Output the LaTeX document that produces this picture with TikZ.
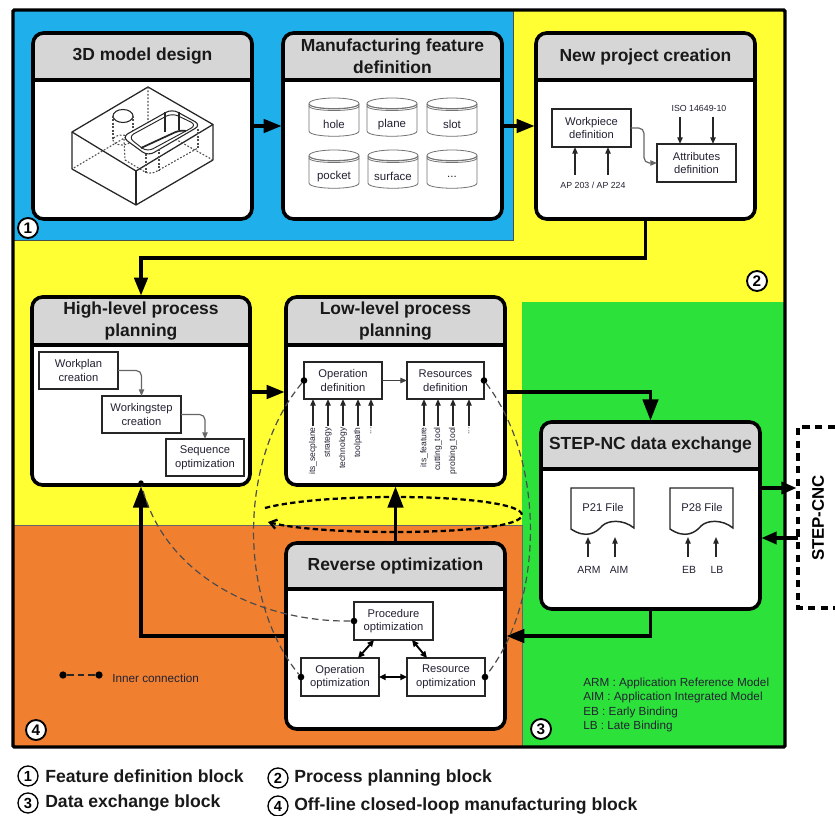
\documentclass[tikz,border=0pt]{standalone}
\usepackage{fontspec}
\setmainfont{Liberation Sans}
\usetikzlibrary{arrows.meta,calc,fit}
\definecolor{cblue}{HTML}{1FB0EC}
\definecolor{cyellow}{HTML}{FFFF33}
\definecolor{cgreen}{HTML}{2CE23A}
\definecolor{corange}{HTML}{F08030}
\definecolor{chead}{HTML}{D6D6D6}
\definecolor{ctext}{HTML}{222233}
\tikzset{
  cardbox/.style={draw=black,line width=2.7pt,rounded corners=8pt,inner sep=0pt,outer sep=0pt},
  cardtitle/.style={font=\bfseries\fontsize{13.1}{16.5}\selectfont,align=center,text=black!90,inner sep=0pt},
  bigarrow/.style={draw=black,line width=2.7pt,-{Triangle[length=13.5pt,width=10pt]},shorten >=1pt},
  tallarrow/.style={bigarrow,-{Triangle[length=16pt,width=11.5pt]}},
  innerbox/.style={draw=black!85,line width=1.5pt,fill=white,inner sep=0pt,outer sep=0pt,align=center,text=ctext},
  boxtext/.style={font=\fontsize{8.4}{10.2}\selectfont,align=center,text=ctext,inner sep=0pt},
  smalltext/.style={font=\fontsize{6.6}{8}\selectfont,text=ctext,inner sep=0pt},
  sideLabel/.style={font=\fontsize{6.4}{8}\selectfont,text=ctext,inner sep=0pt,rotate=90,anchor=east},
  uparrow/.style={draw=black!85,line width=1pt,-{Triangle[length=5pt,width=4pt]}},
  greyarrow/.style={draw=black!60,line width=.9pt,rounded corners=4pt,-{Triangle[length=5pt,width=4pt]}},
  doublearrow/.style={draw=black,line width=1.4pt,{Triangle[length=5pt,width=4.5pt]}-{Triangle[length=5pt,width=4.5pt]}},
  innerdash/.style={draw=black!70,line width=.9pt,dash pattern=on 5pt off 3pt},
  dotnode/.style={circle,fill=black,inner sep=0pt,minimum size=5pt},
  badge/.style={circle,draw=black,fill=white,line width=1.4pt,inner sep=0pt,minimum size=15pt,font=\bfseries\fontsize{11.5}{12}\selectfont},
  lbadge/.style={circle,draw=black,fill=white,line width=1pt,inner sep=0pt,minimum size=15pt,font=\bfseries\fontsize{11}{12}\selectfont},
  legendtext/.style={font=\bfseries\fontsize{13.2}{15}\selectfont,anchor=west,inner sep=0pt,text=black!90},
  plaintext/.style={font=\fontsize{8.8}{10}\selectfont,anchor=west,inner sep=0pt,text=ctext},
  cylline/.style={draw=black!55,line width=.6pt},
  solidline/.style={draw=black!85,line width=.95pt},
  dotline/.style={draw=black!70,line width=.8pt,dash pattern=on 1.3pt off 1.3pt},
}
% name, x1, y1, x2, y2, header bottom, title
\newcommand{\mycard}[7]{%
  \fill[white,rounded corners=8pt] (#2,#3) rectangle (#4,#5);
  \begin{scope}
    \clip[rounded corners=8pt] (#2,#3) rectangle (#4,#5);
    \fill[chead] (#2,#3) rectangle (#4,#6);
  \end{scope}
  \draw[black,line width=2.5pt] (#2,#6) -- (#4,#6);
  \node[cardbox,fit={(#2,#3)(#4,#5)}] (#1) {};
  \node[cardtitle] (#1t) at ($(#2,#3)!.5!(#4,#6)$) {#7};
}
% name, cx, top, label
\newcommand{\mycyl}[4]{%
  \draw[cylline,fill=white] (#2-25,#3+6) -- (#2-25,#3+33) .. controls (#2-25,#3+40) and (#2+25,#3+40) .. (#2+25,#3+33) -- (#2+25,#3+6);
  \draw[cylline] (#2,#3+5.5) ellipse [x radius=25,y radius=5.5];
  \draw[cylline] (#2-25,#3+8) .. controls (#2-25,#3+14) and (#2+25,#3+14) .. (#2+25,#3+8);
  \draw[cylline] (#2-25,#3+6) .. controls (#2-25,#3+12) and (#2+25,#3+12) .. (#2+25,#3+6);
  \node[smalltext,font=\fontsize{8.6}{9}\selectfont] (#1) at (#2,#3+26.5) {#4};
}
% name, x, label
\newcommand{\mydoc}[3]{%
  \draw[black!85,line width=1.1pt,fill=white] (#2,488) -- (#2+63,488) -- (#2+63,528)
    .. controls (#2+52,519) and (#2+37,520) .. (#2+31,526)
    .. controls (#2+25,533) and (#2+15,539) .. (#2,529) -- cycle;
  \node[smalltext,font=\fontsize{8.4}{10}\selectfont] (#1) at (#2+32,507) {#3};
}
\begin{document}
\begin{tikzpicture}[x=0.75pt,y=-0.75pt]
\useasboundingbox (0,0) rectangle (835,816);

% block backgrounds
\fill[cyellow] (13,10) rectangle (785,525);
\fill[cgreen] (522,302) rectangle (785,747);
\draw[black!60,line width=.5pt,fill=corange] (13,525) rectangle (522,747);
\draw[black!70,line width=.5pt,fill=cblue] (13,10) rectangle (513,240);
\draw[black,line width=2.6pt,rounded corners=1pt] (13,10) rectangle (785,747);

% cards
\mycard{model}{33}{33}{252}{219}{80}{3D model design}
\mycard{feat}{283}{33}{502}{219}{80}{Manufacturing feature\\definition}
\mycard{proj}{536}{33}{755}{219}{80}{New project creation}
\mycard{high}{32}{297}{250}{485}{345}{High-level process\\planning}
\mycard{low}{286}{297}{505}{485}{345}{Low-level process\\planning}
\mycard{rev}{286}{543}{505}{729}{589}{Reverse optimization}
\mycard{stp}{541}{422}{760}{609}{469}{STEP-NC data exchange}

% 3D part
\draw[solidline,line join=round] (148,87) -- (213,124.5) -- (136,171) -- (72,132) -- cycle;
\draw[solidline,line join=round] (72,132) -- (72,169) -- (136,205) -- (213,160) -- (213,124.5);
\draw[solidline] (136,171) -- (136,205);
\draw[dotline] (148,87) -- (148,124) -- (72,169);
\draw[dotline] (148,124) -- (213,160);
\draw[solidline,line width=.8pt] (123,116) ellipse [x radius=10,y radius=6.5];
\draw[dotline] (113,116) -- (113,140);
\draw[dotline] (133,116) -- (133,142);
\draw[dotline] (122,140) ellipse [x radius=9,y radius=5];
\draw[solidline,rounded corners=5pt,fill=white,line width=.8pt] (122,137) -- (172,109) -- (201,125) -- (148,156) -- cycle;
\draw[solidline,rounded corners=5pt,line width=.7pt] (128,137) -- (172,113) -- (197,125) -- (147,152) -- cycle;
\draw[solidline,line width=1.3pt,rounded corners=4pt] (141,148) -- (180,130) -- (186,131);
\draw[solidline,line width=.8pt] (165,112) -- (165,132);
\draw[solidline,line width=.8pt] (179,112) -- (179,130);
\draw[dotline,rounded corners=5pt] (125,160) -- (150,175) -- (198,148);
\draw[dotline] (124,139) -- (125,160);
\draw[dotline] (146,154) -- (146,173);
\draw[dotline] (159,149) -- (159,170);
\draw[dotline] (198,129) -- (198,148);

% feature cylinders
\mycyl{fhole}{334}{98}{hole}
\mycyl{fplane}{392}{98}{plane}
\mycyl{fslot}{452}{98}{slot}
\mycyl{fpocket}{334}{150}{pocket}
\mycyl{fsurface}{393}{150}{surface}
\mycyl{fmore}{452}{150}{...}

% new project
\node[innerbox,fit={(552,109)(631,147)}] (work) {};
\node[boxtext] (workt) at (work.center) {Workpiece\\definition};
\node[innerbox,fit={(657,144)(736,182)}] (attr) {};
\node[boxtext] (attrt) at (attr.center) {Attributes\\definition};
\draw[greyarrow] (work.east) -- (644,128) -- (644,163) -- (attr.west);
\node[smalltext] (aplabel) at (593,185) {AP 203 / AP 224};
\node[smalltext] (isolabel) at (699,108) {ISO 14649-10};
\coordinate (apa) at (575,175);
\coordinate (apb) at (608,175);
\coordinate (isoa) at (680,117);
\coordinate (isob) at (713,117);
\draw[uparrow] (apa) -- (apa |- work.south);
\draw[uparrow] (apb) -- (apb |- work.south);
\draw[uparrow] (isoa) -- (isoa |- attr.north);
\draw[uparrow] (isob) -- (isob |- attr.north);

% high level
\node[innerbox,fit={(39,352)(118,389)}] (wplan) {};
\node[boxtext] (wplant) at (wplan.center) {Workplan\\creation};
\node[innerbox,fit={(102,396)(181,433)}] (wstep) {};
\node[boxtext] (wstept) at (wstep.center) {Workingstep\\creation};
\node[innerbox,fit={(166,439)(244,476)}] (seqo) {};
\node[boxtext] (seqot) at (seqo.center) {Sequence\\optimization};
\draw[greyarrow] (wplan.east) -| (wstep.north);
\draw[greyarrow] (wstep.east) -| (seqo.north);

% low level
\node[innerbox,fit={(304,362)(382,399)}] (opdef) {};
\node[boxtext] (opdeft) at (opdef.center) {Operation\\definition};
\node[innerbox,fit={(407,362)(484,399)}] (resdef) {};
\node[boxtext] (resdeft) at (resdef.center) {Resources\\definition};
\draw[greyarrow,draw=black!75] (opdef) -- (resdef);
\node[sideLabel] (la) at (313,427) {its\_secplane};
\node[sideLabel] (lb) at (328,427) {strategy};
\node[sideLabel] (lc) at (343,427) {technology};
\node[sideLabel] (ld) at (358,427) {toolpath};
\node[sideLabel] (le) at (371,427) {...};
\node[sideLabel] (lf) at (424,427) {its\_feature};
\node[sideLabel] (lg) at (438,427) {cutting\_tool};
\node[sideLabel] (lh) at (453,427) {probing\_tool};
\node[sideLabel] (li) at (469,427) {...};
\foreach \n in {a,b,c,d,e}{\draw[uparrow] ($(l\n.east)+(0,-1)$) -- (l\n.east |- opdef.south);}
\foreach \n in {f,g,h,i}{\draw[uparrow] ($(l\n.east)+(0,-1)$) -- (l\n.east |- resdef.south);}

% reverse optimization
\node[innerbox,fit={(354,602)(433,640)}] (proc) {};
\node[boxtext] (proct) at (proc.center) {Procedure\\optimization};
\node[innerbox,fit={(301,658)(379,696)}] (opop) {};
\node[boxtext] (opopt) at (opop.center) {Operation\\optimization};
\node[innerbox,fit={(407,658)(485,696)}] (resop) {};
\node[boxtext] (resopt) at (resop.center) {Resource\\optimization};
\draw[doublearrow] (opop) -- (resop);
\coordinate (pa) at (374,640);
\coordinate (pb) at (358,658);
\coordinate (pc) at (412,640);
\coordinate (pd) at (427,658);
\draw[doublearrow] (pa) -- (pb);
\draw[doublearrow] (pc) -- (pd);

% step-nc files
\mydoc{pone}{571}{P21 File}
\mydoc{ptwo}{670}{P28 File}
\node[smalltext,font=\fontsize{7.8}{9}\selectfont] (arm) at (589,570) {ARM};
\node[smalltext,font=\fontsize{7.8}{9}\selectfont] (aim) at (619,570) {AIM};
\node[smalltext,font=\fontsize{7.8}{9}\selectfont] (eb) at (689,570) {EB};
\node[smalltext,font=\fontsize{7.8}{9}\selectfont] (lbb) at (717,570) {LB};
\coordinate (arma) at (588,557);
\coordinate (aima) at (615,557);
\coordinate (eba) at (688,557);
\coordinate (lba) at (716,557);
\draw[uparrow] (arma) -- ++(0,-20);
\draw[uparrow] (aima) -- ++(0,-20);
\draw[uparrow] (eba) -- ++(0,-20);
\draw[uparrow] (lba) -- ++(0,-20);

% main connectors
\coordinate (hl) at (250,392);
\draw[bigarrow] (model) -- (feat);
\draw[bigarrow] (feat) -- (proj);
\draw[bigarrow] (proj.south) -- ++(0,39) -| (high.north);
\draw[bigarrow] (high.east |- hl) -- (low.west |- hl);
\draw[tallarrow] (low.east |- hl) -| (stp.north);
\draw[bigarrow] (stp.south) -- ++(0,27) -- (rev.east);
\draw[tallarrow] (rev.west) -| (high.south);
\draw[tallarrow] (rev.north) -- (low.south);

% STEP-CNC
\draw[black,line width=2.4pt,dash pattern=on 5.5pt off 4pt] (835,427) -- (798,427) -- (798,608) -- (835,608);
\node[font=\bfseries\fontsize{12.6}{14}\selectfont,rotate=90,inner sep=0pt] (cnc) at (818,518) {STEP-CNC};
\coordinate (cnca) at (798,488);
\coordinate (cncb) at (798,538);
\draw[bigarrow,-{Triangle[length=11.5pt,width=9pt]}] (stp.east |- cnca) -- (cnca);
\draw[bigarrow,-{Triangle[length=11.5pt,width=9pt]}] (cncb) -- (stp.east |- cncb);

% inner connections
\node[dotnode] (dop) at (opdef.west) {};
\node[dotnode] (dres) at (resdef.east) {};
\node[dotnode] (dproc) at (proc.west) {};
\node[dotnode] (dopo) at (opop.west) {};
\node[dotnode] (dreso) at (resop.east) {};
\node[dotnode,minimum size=4pt] (dhigh) at (141,483) {};
\draw[innerdash] (dop) .. controls (238,460) and (238,600) .. (dopo);
\draw[innerdash] (dres) .. controls (545,460) and (545,600) .. (dreso);
\draw[innerdash] (dproc) .. controls (262,622) and (165,578) .. (dhigh);

% closed loop
\draw[black,line width=1.7pt,dash pattern=on 4pt off 2.4pt,-{Straight Barb[length=5pt,width=7pt]}]
  (265,508) .. controls (295,500) and (350,497) .. (395,497)
  .. controls (465,497) and (522,504) .. (522,515)
  .. controls (522,526) and (465,532) .. (395,532)
  .. controls (345,532) and (295,529) .. (268,522);

% inner connection legend
\node[dotnode,minimum size=5.5pt] (lega) at (63,675) {};
\node[dotnode,minimum size=5.5pt] (legb) at (99,675) {};
\draw[innerdash,draw=black!85] (lega) -- (legb);
\node[plaintext] (legt) at (112,678) {Inner connection};

% abbreviations
\node[plaintext] (abba) at (583,683) {ARM : Application Reference Model};
\node[plaintext] (abbb) at (583,697) {AIM : Application Integrated Model};
\node[plaintext] (abbc) at (583,712) {EB : Early Binding};
\node[plaintext] (abbd) at (583,726) {LB : Late Binding};

% block badges
\node[badge] (bone) at (28,228) {1};
\node[badge] (btwo) at (757,281) {2};
\node[badge] (bthree) at (541,729) {3};
\node[badge] (bfour) at (36,730) {4};

% bottom legend
\node[lbadge] (kone) at (28,776) {1};
\node[legendtext] (ktone) at (45,776) {Feature definition block};
\node[lbadge] (kthree) at (28,803) {3};
\node[legendtext] (ktthree) at (45,803) {Data exchange block};
\node[lbadge] (ktwo) at (278,778) {2};
\node[legendtext] (kttwo) at (294,778) {Process planning block};
\node[lbadge] (kfour) at (278,806) {4};
\node[legendtext] (ktfour) at (294,806) {Off-line closed-loop manufacturing block};
\end{tikzpicture}
\end{document}
